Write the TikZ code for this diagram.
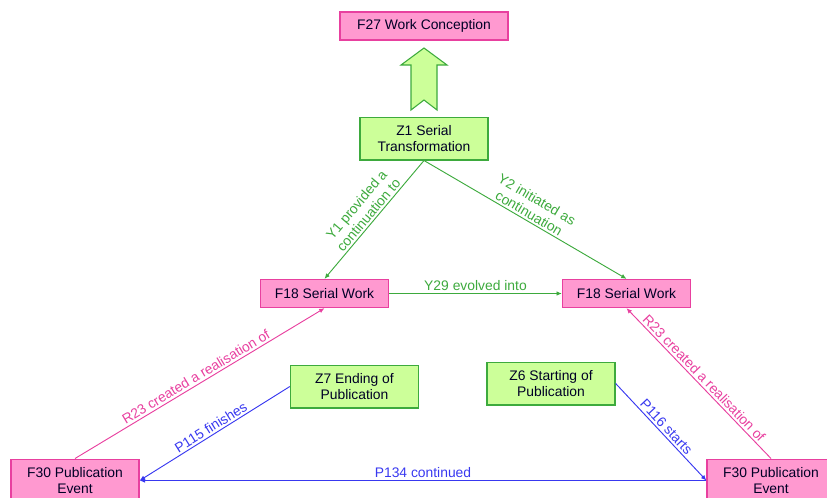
\documentclass[tikz,border=0pt]{standalone}
\usepackage{fontspec}
\setmainfont{Liberation Sans}
\usetikzlibrary{arrows.meta}

\definecolor{boxpink}{HTML}{FF99D0}
\definecolor{linepink}{HTML}{E8409F}
\definecolor{boxgreen}{HTML}{CCFF99}
\definecolor{linegreen}{HTML}{3DAA3D}
\definecolor{lineblue}{HTML}{3838F0}

\tikzset{
  entity/.style={draw=linepink, fill=boxpink, line width=1pt, minimum width=96pt,
    minimum height=21pt, align=center, inner sep=2pt, text=black!85!blue},
  event/.style={draw=linegreen, fill=boxgreen, line width=1pt, minimum width=96pt,
    minimum height=32pt, align=center, inner sep=2pt, text=black!85!blue},
  link/.style={line width=0.7pt, -{Latex[length=4pt,width=3.5pt]}},
  lbl/.style={sloped, midway, above, inner sep=1.5pt, align=center}
}

\begin{document}
\begin{tikzpicture}[x=0.75pt, y=-0.75pt, font=\fontsize{10.4}{11.8}\selectfont]

  \useasboundingbox (0,0) rectangle (827,497);

  \node[entity, minimum width=126pt] (f27) at (424,26) {F27 Work Conception};
  \node[event] (z1) at (424,138.5) {Z1 Serial\\Transformation};
  \node[entity] (f18l) at (324.5,293.5) {F18 Serial Work};
  \node[entity] (f18r) at (626.5,293.5) {F18 Serial Work};
  \node[event] (z7) at (354.5,386.5) {Z7 Ending of\\Publication};
  \node[event] (z6) at (551,383.5) {Z6 Starting of\\Publication};
  \node[entity, minimum height=32pt] (f30l) at (75,480.5) {F30 Publication\\Event};
  \node[entity, minimum height=32pt] (f30r) at (771,480.5) {F30 Publication\\Event};

  \draw[linegreen, fill=boxgreen, line width=0.8pt] (411,110) -- (411,65) -- (401,65)
    -- (424,48) -- (447,65) -- (437,65) -- (437,110) -- (424,100) -- cycle;

  \draw[link, linegreen] (z1.south) -- node[lbl, text=linegreen] {Y1 provided a\\continuation to} (f18l.north);
  \draw[link, linegreen] (z1.south) -- node[lbl, text=linegreen] {Y2 initiated as\\continuation} (f18r.north);
  \draw[link, linegreen] (f18l.east) -- node[lbl, text=linegreen] {Y29 evolved into} (f18r.west);

  \draw[link, linepink] (f30l.north) -- node[lbl, text=linepink] {R23 created a realisation of} (f18l.south);
  \draw[link, linepink] (f30r.north) -- node[lbl, text=linepink] {R23 created a realisation of} (f18r.south);

  \draw[link, lineblue] (z7.west) -- node[lbl, text=lineblue] {P115 finishes} (f30l.east);
  \draw[link, lineblue] (z6.east) -- node[lbl, text=lineblue] {P116 starts} (f30r.west);
  \draw[link, lineblue] (f30r.west) -- node[lbl, text=lineblue] {P134 continued} (f30l.east);

\end{tikzpicture}
\end{document}
